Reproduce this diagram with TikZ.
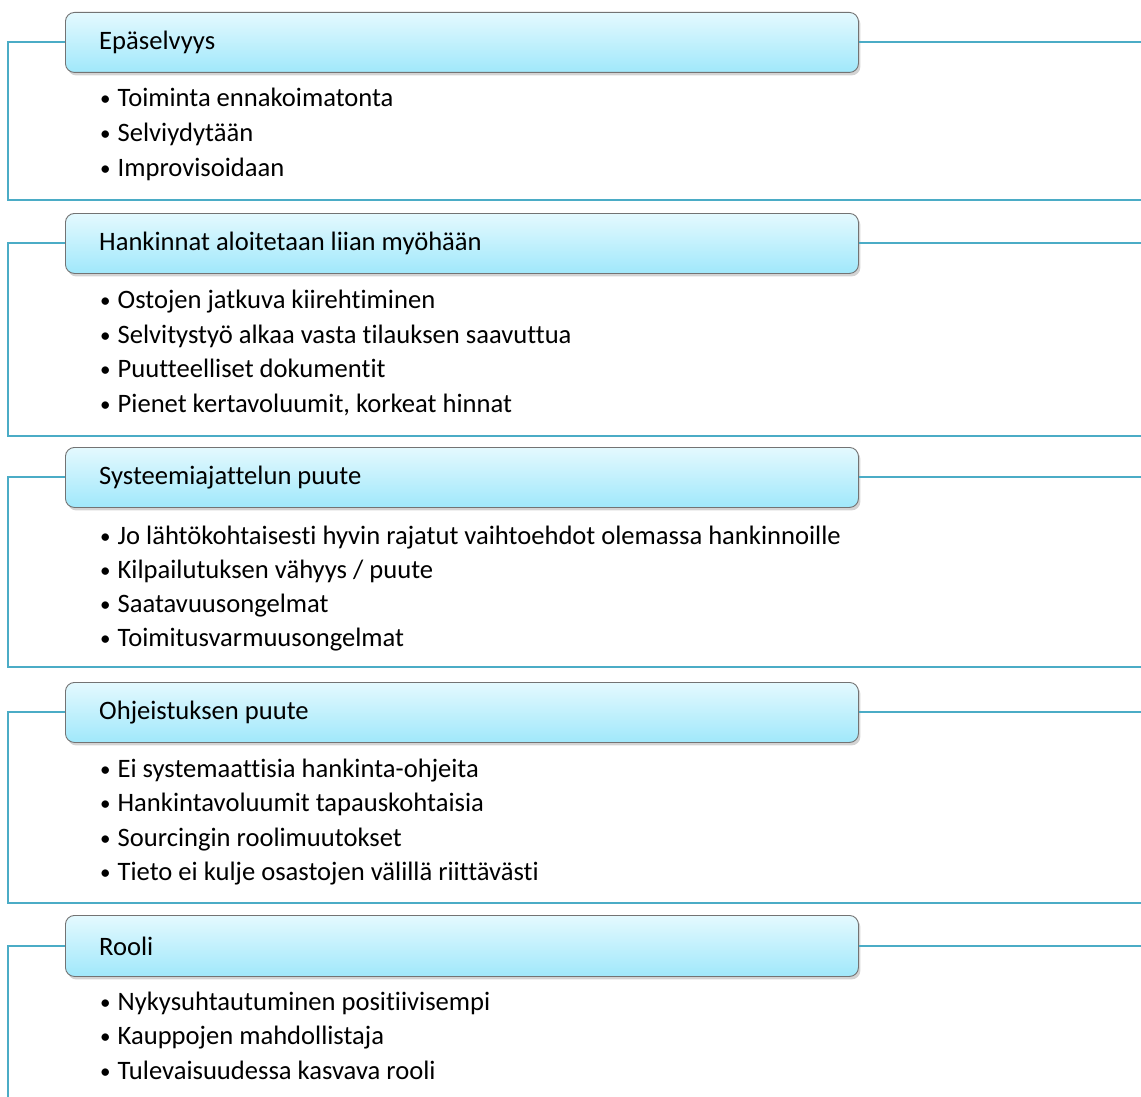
\documentclass[tikz,border=0pt]{standalone}
\usepackage{fontspec}
\setmainfont{Carlito}[Ligatures=NoCommon]
\usetikzlibrary{shadows}
\definecolor{linec}{RGB}{75,172,198}
\definecolor{boxtop}{RGB}{228,249,254}
\definecolor{boxbot}{RGB}{160,232,251}
\definecolor{boxborder}{RGB}{115,115,115}
\tikzset{
  hdr/.style={draw=boxborder, line width=0.9pt, rounded corners=9pt,
    top color=boxtop, bottom color=boxbot, minimum width=793pt,
    inner sep=0pt, anchor=north west,
    drop shadow={shadow xshift=2pt, shadow yshift=-3pt, opacity=0.35}},
  htext/.style={anchor=west, inner sep=0pt, font=\fontsize{26.6}{32}\selectfont},
  item/.style={anchor=base west, inner sep=0pt, font=\fontsize{26.6}{32}\selectfont},
  conn/.style={draw=linec, line width=2pt}
}
\newcommand{\bitem}[3]{\node[item] (#1) at (100,-#2) {\raisebox{1pt}{\fontsize{21}{26}\selectfont•}\hspace{7pt}#3};}
\newcommand{\header}[5]{%
  \node[hdr, minimum height=#3] (#1) at (65,-#2) {};
  \node[htext] (#1t) at ([xshift=34pt]#1.west) {#4};
  \coordinate (#1r) at (1141,0);
  \coordinate (#1b) at (8,-#5);
}
\begin{document}
\begin{tikzpicture}[x=1pt,y=1pt]
\useasboundingbox (0,0) rectangle (1141,-1097);
% Section 1
\header{h1}{12}{60pt}{Epäselvyys}{200}
\draw[conn] (h1.west) -| (h1b) -- (h1b -| h1r);
\draw[conn] (h1.east) -- (h1.east -| h1r);
\bitem{i11}{107}{Toiminta ennakoimatonta}
\bitem{i12}{141.5}{Selviydytään}
\bitem{i13}{176}{Improvisoidaan}
% Section 2
\header{h2}{213}{60pt}{Hankinnat aloitetaan liian myöhään}{436}
\draw[conn] (h2.west) -| (h2b) -- (h2b -| h2r);
\draw[conn] (h2.east) -- (h2.east -| h2r);
\bitem{i21}{308}{Ostojen jatkuva kiirehtiminen}
\bitem{i22}{343}{Selvitystyö alkaa vasta tilauksen saavuttua}
\bitem{i23}{377}{Puutteelliset dokumentit}
\bitem{i24}{412}{Pienet kertavoluumit, korkeat hinnat}
% Section 3
\header{h3}{447}{60pt}{Systeemiajattelun puute}{667}
\draw[conn] (h3.west) -| (h3b) -- (h3b -| h3r);
\draw[conn] (h3.east) -- (h3.east -| h3r);
\bitem{i31}{544}{Jo lähtökohtaisesti hyvin rajatut vaihtoehdot olemassa hankinnoille}
\bitem{i32}{578}{Kilpailutuksen vähyys / puute}
\bitem{i33}{612}{Saatavuusongelmat}
\bitem{i34}{646}{Toimitusvarmuusongelmat}
% Section 4
\header{h4}{682}{60pt}{Ohjeistuksen puute}{903}
\draw[conn] (h4.west) -| (h4b) -- (h4b -| h4r);
\draw[conn] (h4.east) -- (h4.east -| h4r);
\bitem{i41}{777}{Ei systemaattisia hankinta-ohjeita}
\bitem{i42}{811}{Hankintavoluumit tapauskohtaisia}
\bitem{i43}{846}{Sourcingin roolimuutokset}
\bitem{i44}{880}{Tieto ei kulje osastojen välillä riittävästi}
% Section 5
\header{h5}{915}{61pt}{Rooli}{1097}
\draw[conn] (h5.west) -| (h5b);
\draw[conn] (h5.east) -- (h5.east -| h5r);
\bitem{i51}{1010}{Nykysuhtautuminen positiivisempi}
\bitem{i52}{1044.5}{Kauppojen mahdollistaja}
\bitem{i53}{1079}{Tulevaisuudessa kasvava rooli}
\end{tikzpicture}
\end{document}
